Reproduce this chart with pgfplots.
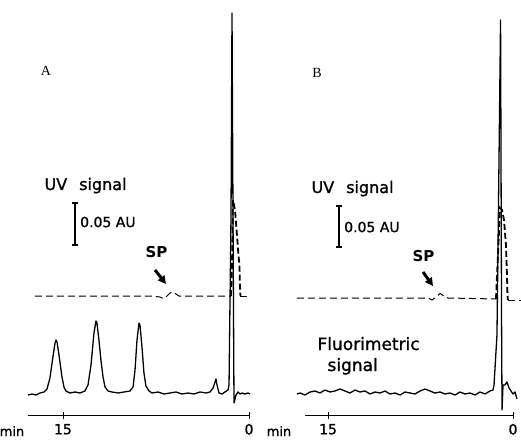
\documentclass[border=0pt]{standalone}
\usepackage{fontspec}
\setmainfont{DejaVu Sans}
\newfontfamily\scan{DejaVu Sans}[FakeBold=1.2]
\newfontfamily\panelfont{Liberation Serif}
\usepackage{pgfplots}
\pgfplotsset{compat=1.18}
\usetikzlibrary{arrows.meta}

\pgfplotsset{chrom/.style={
  scale only axis, clip=false,
  ymin=0, ymax=402, height=402pt,
  xmin=0, x dir=reverse,
  axis x line=bottom, axis y line=none,
  x axis line style={-, line width=0.8pt},
  xtick={0,15}, tick align=center, major tick length=7pt,
  tick style={line width=0.8pt, black},
  /pgf/number format/assume math mode=true,
  xticklabel style={font=\scan\fontsize{14}{16}\selectfont, yshift=-2pt},
  anchor=south west,
}}

\begin{document}
\begin{tikzpicture}[x=1pt,y=1pt]
\useasboundingbox (0,0) rectangle (521,439);

% ---------------- Panel A ----------------
\begin{axis}[chrom, at={(28pt,24pt)}, xmax=17.82, width=221pt]
% fluorimetric signal
\addplot[black, line width=1.3pt, line join=round] coordinates {
(17.82,20) (17.50,21) (17.18,20) (16.85,22) (16.53,23) (16.29,26) (16.05,37)
(15.81,58) (15.64,72) (15.56,75) (15.48,73) (15.32,60) (15.08,38) (14.92,28)
(14.76,24) (14.44,22) (14.03,23) (13.63,22) (13.23,24) (12.98,30) (12.74,50)
(12.50,82) (12.34,94) (12.26,92) (12.10,75) (11.94,55) (11.77,38) (11.61,28)
(11.37,24) (11.05,23) (10.56,22) (10.08,23) (9.60,24) (9.35,28) (9.19,45)
(9.03,75) (8.87,92) (8.79,90) (8.63,68) (8.47,42) (8.31,29) (8.06,24)
(7.82,22) (7.34,23) (6.85,21) (6.37,22) (5.89,23) (5.40,21) (4.92,22)
(4.44,21) (3.95,23) (3.47,22) (3.15,23) (2.90,27) (2.74,33) (2.66,36)
(2.58,30) (2.42,22) (2.18,21) (1.94,23) (1.69,25) (1.61,30) (1.45,200)
(1.37,402) (1.29,200) (1.21,12) (1.05,20) (0.89,23) (0.73,21) (0.56,22)
(0.32,21) (0.08,22) (-0.08,21)
};
% UV signal
\addplot[black, line width=1pt, dash pattern=on 7pt off 4pt] coordinates {
(17.26,119) (12.02,119) (7.98,119) (7.18,118) (6.94,116.5) (6.69,118)
(6.37,122) (6.13,123) (5.89,121) (5.65,119) (3.95,119) (1.45,119)
};
\addplot[black, line width=1.8pt, dash pattern=on 6pt off 3pt] coordinates {
(1.45,119) (1.37,150) (1.29,215) (1.13,205) (0.97,180) (0.85,160)
(0.77,150) (0.73,130) (0.69,119)
};
\addplot[black, line width=1pt, dash pattern=on 7pt off 4pt] coordinates {
(0.69,119) (-0.08,119)
};
\end{axis}

% ---------------- Panel B ----------------
\begin{axis}[chrom, at={(305pt,24pt)}, xmax=16.87, width=208pt]
% fluorimetric signal
\addplot[black, line width=1.3pt, line join=round] coordinates {
(17.52,21) (17.27,22) (16.87,20) (16.46,23) (16.06,24) (15.65,22) (15.25,25)
(14.84,23) (14.44,24) (14.03,26) (13.63,24) (13.22,22) (12.81,25) (12.41,23)
(12.00,24) (11.60,21) (11.19,23) (10.79,22) (10.38,24) (9.98,21) (9.57,22)
(9.16,20) (8.76,23) (8.35,22) (7.95,21) (7.54,24) (7.14,26) (6.73,24)
(6.33,22) (5.92,23) (5.51,21) (5.11,22) (4.70,20) (4.30,23) (3.89,21)
(3.49,22) (3.08,20) (2.68,23) (2.27,21) (1.87,24) (1.62,25) (1.54,30)
(1.30,80) (1.14,250) (1.01,395) (0.93,100) (0.89,5) (0.81,30) (0.65,30)
(0.49,33) (0.32,27) (0.16,24) (0.00,21) (-0.16,23) (-0.32,16)
};
% UV signal
\addplot[black, line width=1pt, dash pattern=on 7pt off 4pt] coordinates {
(17.52,117) (9.16,117) (6.89,117) (6.57,115) (6.24,118) (5.92,121.5)
(5.60,119) (5.27,117) (1.38,116)
};
\addplot[black, line width=1.8pt, dash pattern=on 6pt off 3pt] coordinates {
(1.38,116) (1.22,160) (1.05,207) (0.89,205) (0.73,195) (0.57,170)
(0.49,140) (0.45,120) (0.41,115)
};
\addplot[black, line width=1pt, dash pattern=on 7pt off 4pt] coordinates {
(0.41,115) (-0.65,115)
};
\end{axis}

% ---------------- annotations ----------------
\node[font=\panelfont\fontsize{14}{16}\selectfont] at (46,368) {A};
\node[font=\panelfont\fontsize{14}{16}\selectfont] at (317,366) {B};

\node[anchor=base west, font=\scan\fontsize{16}{19}\selectfont] at (41,249) {UV\hspace{12pt}signal};
\node[anchor=base west, font=\scan\fontsize{16}{19}\selectfont] at (308,246) {UV\hspace{12pt}signal};

\draw[line width=1.1pt] (75,194)--(75,236) (72,236)--(78,236) (72,194)--(78,194);
\draw[line width=1.1pt] (339,192)--(339,233) (336,233)--(342,233) (336,192)--(342,192);
\node[anchor=west, inner sep=2pt, font=\scan\fontsize{14}{16}\selectfont] at (78,217) {0.05 AU};
\node[anchor=west, inner sep=2pt, font=\scan\fontsize{14}{16}\selectfont] at (342,212) {0.05 AU};

\node[anchor=base west, font=\bfseries\fontsize{15}{18}\selectfont] at (142,181) {SP};
\node[anchor=base west, font=\bfseries\fontsize{15}{18}\selectfont] at (409,177) {SP};
\draw[-{Triangle[length=8pt,width=8pt]}, line width=3pt] (155,169)--(166,155);
\draw[-{Triangle[length=8pt,width=8pt]}, line width=3pt] (423,167)--(433,153);

\node[anchor=base west, font=\scan\fontsize{17}{20}\selectfont] at (314,89) {Fluorimetric};
\node[anchor=base west, font=\scan\fontsize{17}{20}\selectfont] at (324,68) {signal};

\node[anchor=base, font=\scan\fontsize{13}{15}\selectfont] at (12,3) {min};
\node[anchor=base, font=\scan\fontsize{13}{15}\selectfont] at (279,3) {min};
\end{tikzpicture}
\end{document}
